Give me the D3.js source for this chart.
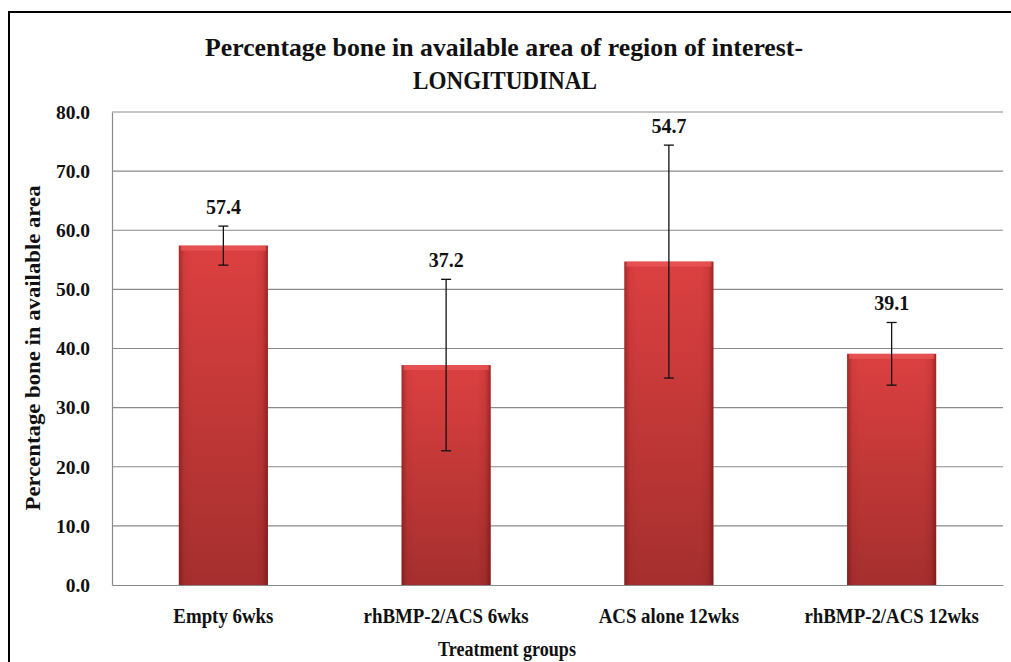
<!DOCTYPE html>
<html>
<head>
<meta charset="utf-8">
<script src="https://cdn.jsdelivr.net/npm/d3@7"></script>
<style>
  html, body { margin: 0; padding: 0; background: #fff; }
  svg { display: block; }
</style>
</head>
<body>
<script>
const categories = ["Empty 6wks", "rhBMP-2/ACS 6wks", "ACS alone 12wks", "rhBMP-2/ACS 12wks"];
const values = [57.4, 37.2, 54.7, 39.1];
const errors = [3.3, 14.5, 19.7, 5.3];
const yTicks = [0, 10, 20, 30, 40, 50, 60, 70, 80];
const titleLines = ["Percentage bone in  available area of region of interest-", "LONGITUDINAL"];
const yTitle = "Percentage bone in available  area";
const xTitle = "Treatment groups";

const FONT = "'Liberation Serif', 'Times New Roman', Tinos, 'DejaVu Serif', serif";
const W = 1011, H = 662;
const margin = { left: 112, right: 8, top: 112, bottom: 77 };

const svg = d3.select("body").append("svg").attr("width", W).attr("height", H);

function styleText(sel, size) {
  return sel.style("font-family", FONT).style("font-weight", "bold").style("font-size", size + "px").style("fill", "#111");
}
function condense(sel, f) {
  sel.each(function () {
    const L = this.getComputedTextLength();
    d3.select(this).attr("textLength", L * f).attr("lengthAdjust", "spacingAndGlyphs");
  });
  return sel;
}

// outer frame
svg.append("rect").attr("x", 9).attr("y", 12).attr("width", 1010).attr("height", 660)
  .attr("fill", "none").attr("stroke", "#000").attr("stroke-width", 2);

const x = d3.scaleBand().domain(categories).range([margin.left, W - margin.right]).paddingInner(0.6).paddingOuter(0.3);
const y = d3.scaleLinear().domain([0, 80]).range([H - margin.bottom, margin.top]);

const defs = svg.append("defs");
const vg = defs.append("linearGradient").attr("id", "vg").attr("x1", 0).attr("y1", 0).attr("x2", 0).attr("y2", 1);
vg.append("stop").attr("offset", "0%").attr("stop-color", "#dc4040");
vg.append("stop").attr("offset", "100%").attr("stop-color", "#a52f2e");
const hg = defs.append("linearGradient").attr("id", "hg").attr("x1", 0).attr("y1", 0).attr("x2", 1).attr("y2", 0);
[[0, 0.35], [0.06, 0.05], [0.15, 0], [0.85, 0], [0.94, 0.08], [1, 0.4]].forEach(([o, a]) => {
  hg.append("stop").attr("offset", o).attr("stop-color", "#400").attr("stop-opacity", a);
});

// gridlines
svg.append("g").selectAll("line").data(yTicks.filter(d => d > 0)).join("line")
  .attr("x1", margin.left).attr("x2", W - margin.right)
  .attr("y1", d => y(d)).attr("y2", d => y(d))
  .attr("stroke", "#8a8a8a").attr("stroke-width", 1.2);

// y axis
const yAxis = d3.axisLeft(y).tickValues(yTicks).tickFormat(d3.format(".1f")).tickSize(0).tickPadding(22);
const gy = svg.append("g").attr("transform", `translate(${margin.left},0)`).call(yAxis);
gy.select(".domain").attr("stroke", "#8a8a8a").attr("stroke-width", 1.2);
styleText(gy.selectAll("text"), 19.5);

// x axis
const xAxis = d3.axisBottom(x).tickSize(0).tickPadding(23);
const gx = svg.append("g").attr("transform", `translate(0,${y(0)})`).call(xAxis);
gx.select(".domain").attr("stroke", "#8a8a8a").attr("stroke-width", 1.2);
condense(styleText(gx.selectAll("text"), 20.5), 0.92);

// bars
const bars = svg.append("g");
categories.forEach((c, i) => {
  const bx = x(c), bw = x.bandwidth(), by = y(values[i]), bh = y(0) - y(values[i]);
  bars.append("rect").attr("x", bx).attr("y", by).attr("width", bw).attr("height", bh).attr("fill", "url(#vg)");
  bars.append("rect").attr("x", bx).attr("y", by).attr("width", bw).attr("height", bh).attr("fill", "url(#hg)");
  bars.append("rect").attr("x", bx + 2).attr("y", by).attr("width", bw - 4).attr("height", 5).attr("fill", "#e85555").attr("opacity", 0.8);
});

// error bars
const eb = svg.append("g").attr("stroke", "#111").attr("stroke-width", 1.3);
categories.forEach((c, i) => {
  const cx = x(c) + x.bandwidth() / 2;
  const top = y(values[i] + errors[i]), bot = y(values[i] - errors[i]);
  eb.append("line").attr("x1", cx).attr("x2", cx).attr("y1", top).attr("y2", bot);
  eb.append("line").attr("x1", cx - 5).attr("x2", cx + 5).attr("y1", top).attr("y2", top);
  eb.append("line").attr("x1", cx - 5).attr("x2", cx + 5).attr("y1", bot).attr("y2", bot);
});

// value labels
styleText(svg.append("g").selectAll("text").data(categories).join("text")
  .attr("x", c => x(c) + x.bandwidth() / 2)
  .attr("y", (c, i) => y(values[i] + errors[i]) - 12)
  .attr("text-anchor", "middle")
  .text((c, i) => d3.format(".1f")(values[i])), 20);

// title
styleText(svg.append("text").attr("x", 504).attr("y", 56).attr("text-anchor", "middle")
  .attr("textLength", 598).attr("lengthAdjust", "spacingAndGlyphs").text(titleLines[0]), 26);
styleText(svg.append("text").attr("x", 505).attr("y", 89).attr("text-anchor", "middle")
  .attr("textLength", 184).attr("lengthAdjust", "spacingAndGlyphs").text(titleLines[1]), 26);

// axis titles
styleText(svg.append("text").attr("transform", `translate(40,348) rotate(-90)`).attr("text-anchor", "middle")
  .attr("textLength", 325).attr("lengthAdjust", "spacingAndGlyphs").text(yTitle), 20);
condense(styleText(svg.append("text").attr("x", 507).attr("y", 656).attr("text-anchor", "middle")
  .text(xTitle), 20.5), 0.88);
</script>
</body>
</html>
